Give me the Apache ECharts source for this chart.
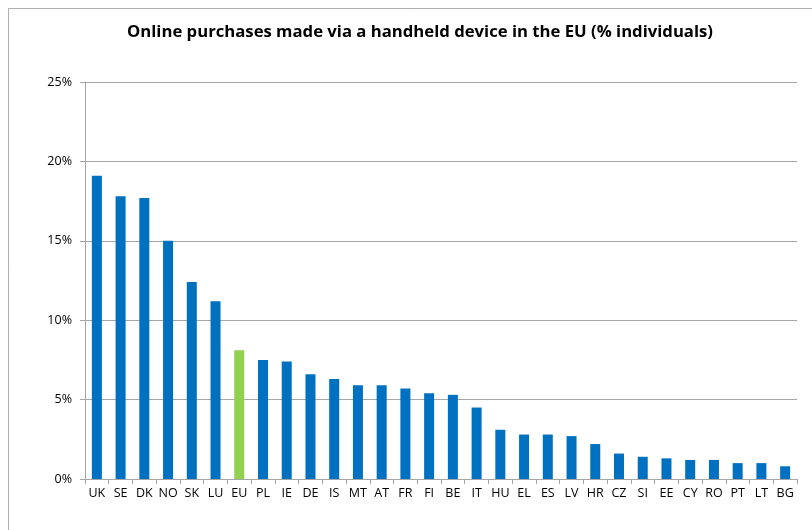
<!DOCTYPE html>
<html><head><meta charset="utf-8">
<script src="https://cdn.jsdelivr.net/npm/echarts@6/dist/echarts.min.js"></script>
<style>html,body{margin:0;padding:0;background:#fff}#c{width:812px;height:530px}</style>
</head><body><div id="c"></div>
<script>
const categories = ['UK','SE','DK','NO','SK','LU','EU','PL','IE','DE','IS','MT','AT','FR','FI','BE','IT','HU','EL','ES','LV','HR','CZ','SI','EE','CY','RO','PT','LT','BG'];
const values = [19.1,17.8,17.7,15.0,12.4,11.2,8.1,7.5,7.4,6.6,6.3,5.9,5.9,5.7,5.4,5.3,4.5,3.1,2.8,2.8,2.7,2.2,1.6,1.4,1.3,1.2,1.2,1.0,1.0,0.8];
const highlight = 'EU';
const yTicks = [0,5,10,15,20,25];

const chart = echarts.init(document.getElementById('c'));
const font = '"Open Sans", "Liberation Sans", sans-serif';
chart.setOption({
  animation: false,
  backgroundColor: '#fff',
  graphic: [{
    type: 'rect', shape: {x: 8.5, y: 8.5, width: 820, height: 540},
    style: {fill: 'none', stroke: '#b0b0b0', lineWidth: 1}, silent: true
  }],
  title: {
    text: 'Online purchases made via a handheld device in the EU (% individuals)',
    left: 415, top: 19, textAlign: 'center',
    textStyle: {fontFamily: font, fontWeight: 'bold', fontSize: 16.7, color: '#000'}
  },
  grid: {left: 85, right: 15, top: 82, bottom: 51, containLabel: false},
  xAxis: {
    type: 'category', data: categories,
    axisLine: {lineStyle: {color: '#a6a6a6', width: 1}},
    axisTick: {show: true, alignWithLabel: false, length: 5, lineStyle: {color: '#a6a6a6'}},
    axisLabel: {interval: 0, color: '#000', fontFamily: font, fontSize: 12.5, margin: 8}
  },
  yAxis: {
    type: 'value', min: yTicks[0], max: yTicks[yTicks.length-1], interval: 5,
    axisLine: {show: true, lineStyle: {color: '#a6a6a6'}},
    axisTick: {show: true, length: 5, lineStyle: {color: '#a6a6a6'}},
    splitLine: {lineStyle: {color: '#a6a6a6', width: 1}},
    axisLabel: {formatter: v => v + '%', color: '#000', fontFamily: font, fontSize: 12.5, margin: 13}
  },
  series: [{
    type: 'bar', barWidth: 10,
    data: values.map((v, i) => ({
      value: v,
      itemStyle: {color: categories[i] === highlight ? '#92D050' : '#0070C0'}
    }))
  }]
});
</script></body></html>
